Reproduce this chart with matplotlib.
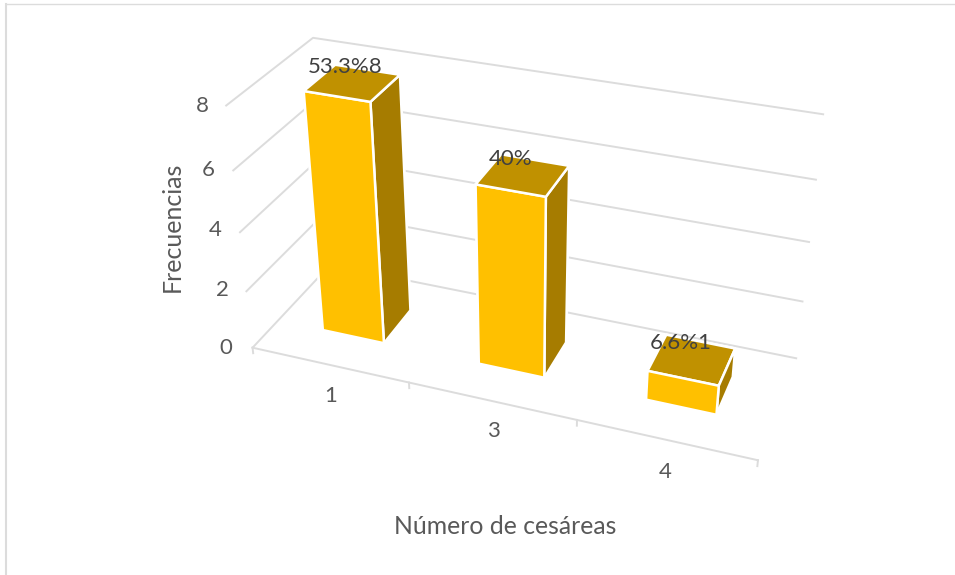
import matplotlib
matplotlib.use("Agg")
import matplotlib.pyplot as plt
from matplotlib.lines import Line2D
import numpy as np

# data
categories = ["1", "3", "4"]
frequencies = [8, 6, 1]
bar_labels = ["53.3%8", "40%", "6.6%1"]
value_ticks = [0, 2, 4, 6, 8]

W, H = 955, 575
plt.rcParams['font.family'] = ['Lato', 'DejaVu Sans']

GRID = '#DCDCDC'
TXT = '#595959'
FRONT = '#FFC000'
TOP = '#C09100'
SIDE = '#A67C00'
# faces of bar3d: bottom, top, front, back, left, right
FACES = [SIDE, TOP, FRONT, SIDE, SIDE, SIDE]


def fx(px):
    return px / W


def fy(py):
    return 1 - py / H


fig = plt.figure(figsize=(W / 100, H / 100), dpi=100, facecolor='white')

# square axes wider than the figure so nothing gets cut, centred on the scene
cx, cy = 510, 250
ax = fig.add_axes([(cx - W / 2) / W, ((H - cy) - W / 2) / H, 1, W / H], projection='3d')
ax.set_axis_off()
ax.computed_zorder = False
ax.set_proj_type('persp', focal_length=0.29)
ax.view_init(elev=30, azim=-69.6)
ax.set_box_aspect((540, 180, 280), zoom=0.645)

n = len(categories)
ax.set_xlim(0, n, view_margin=0)
ax.set_ylim(0, 1, view_margin=0)
ax.set_zlim(0, max(value_ticks), view_margin=0)

# gridlines: side wall and back wall
for v in value_ticks:
    ax.plot([0, 0, n], [0, 1, 1], [v, v, v], color=GRID, lw=1.4, zorder=1)
# floor front edge with ticks
ax.plot([0, n], [0, 0], [0, 0], color=GRID, lw=1.4, zorder=1)
for i in range(n + 1):
    ax.plot([i, i], [0, 0], [0, -0.2], color=GRID, lw=1.4, zorder=1)

bar_w = 0.40
bar_d = 0.38
for i, f in enumerate(frequencies):
    ax.bar3d(i + (1 - bar_w) / 2, (1 - bar_d) / 2, 0, bar_w, bar_d, f, color=FACES,
             edgecolor='white', linewidth=1.8, shade=False, zorder=2 + i)

# text placed in picture pixels
tick_xy = [(226, 348), (222, 290), (215, 230), (208, 170), (202, 106)]
for v, (px, py) in zip(value_ticks, tick_xy):
    fig.text(fx(px), fy(py), str(v), color=TXT, fontsize=16, ha='center', va='center')

cat_xy = [(331, 396), (493, 431), (665, 472)]
for c, (px, py) in zip(categories, cat_xy):
    fig.text(fx(px), fy(py), c, color=TXT, fontsize=16, ha='center', va='center')

label_xy = [(345, 67), (511, 159), (681, 343)]
for s, (px, py) in zip(bar_labels, label_xy):
    fig.text(fx(px), fy(py), s, color='#404040', fontsize=16, ha='center', va='center', zorder=10)

fig.text(fx(172), fy(227), "Frecuencias", color=TXT, fontsize=18, rotation=90, ha='center', va='center')
fig.text(fx(505), fy(526), "Número de cesáreas", color=TXT, fontsize=17.8, ha='center', va='center')

# chart frame, only left and top are visible
fig.add_artist(Line2D([fx(5.5), fx(5.5)], [0, fy(3.5)], color=GRID, lw=1.5))
fig.add_artist(Line2D([fx(5.5), 1], [fy(3.5), fy(3.5)], color=GRID, lw=1.0))

plt.savefig("out.png", dpi=100)
